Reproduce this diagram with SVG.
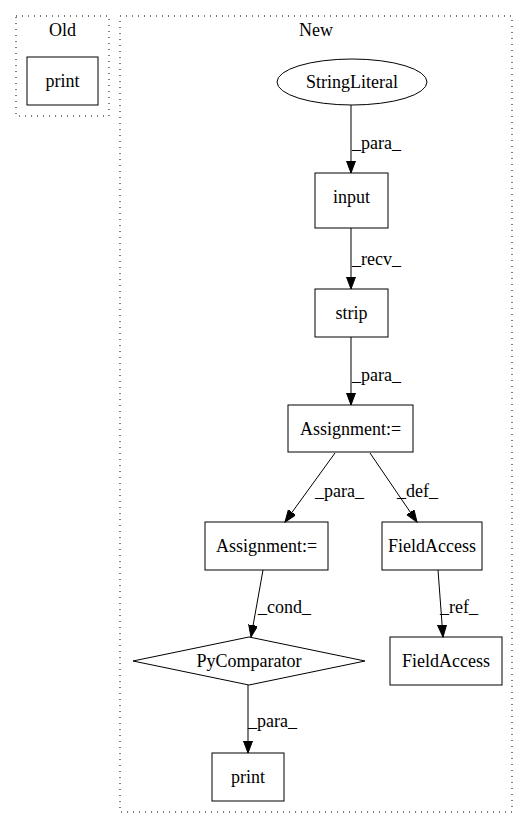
<svg xmlns="http://www.w3.org/2000/svg" width="528" height="828" viewBox="0 0 528 828">
<style>
text{font-family:"Liberation Serif","Times New Roman",serif;font-size:18px;fill:#000}
.n{fill:#fff;stroke:#000;stroke-width:1}
.c{fill:none;stroke:#000;stroke-width:1;stroke-dasharray:1,5}
.e{fill:none;stroke:#000;stroke-width:1;marker-end:url(#ah)}
.m{text-anchor:middle}
</style>
<defs>
<marker id="ah" markerUnits="userSpaceOnUse" markerWidth="13" markerHeight="10" refX="12" refY="4.5" orient="auto">
<polygon points="0,0 12,4.5 0,9" fill="#000" stroke="#000"/>
</marker>
</defs>
<rect width="528" height="828" fill="#fff"/>
<g id="cluster_old">
<rect class="c" x="16" y="16" width="93" height="100"/>
<text class="m" x="62.5" y="36">Old</text>
</g>
<g id="cluster_new">
<rect class="c" x="120" y="16" width="392" height="796"/>
<text class="m" x="316" y="36">New</text>
</g>
<g id="old_print">
<rect class="n" x="27" y="57" width="71" height="48"/>
<text class="m" x="62.5" y="87">print</text>
</g>
<g id="stringliteral">
<ellipse class="n" cx="352" cy="82" rx="75" ry="23"/>
<text class="m" x="352" y="88">StringLiteral</text>
</g>
<g id="input">
<rect class="n" x="315" y="173" width="73" height="55"/>
<text class="m" x="351.5" y="203">input</text>
</g>
<g id="strip">
<rect class="n" x="315" y="289" width="73" height="48"/>
<text class="m" x="351.5" y="319">strip</text>
</g>
<g id="assign1">
<rect class="n" x="288" y="405" width="125" height="47"/>
<text class="m" x="350.5" y="435">Assignment:=</text>
</g>
<g id="assign2">
<rect class="n" x="205" y="522" width="123" height="48"/>
<text class="m" x="266.5" y="552">Assignment:=</text>
</g>
<g id="fieldaccess1">
<rect class="n" x="382" y="522" width="100" height="48"/>
<text class="m" x="432" y="552">FieldAccess</text>
</g>
<g id="pycomparator">
<polygon class="n" points="133,661 249,637 365,661 249,685"/>
<text class="m" x="249" y="667">PyComparator</text>
</g>
<g id="fieldaccess2">
<rect class="n" x="390" y="637" width="112" height="48"/>
<text class="m" x="446" y="667">FieldAccess</text>
</g>
<g id="new_print">
<rect class="n" x="212" y="753" width="72" height="48"/>
<text class="m" x="248" y="783">print</text>
</g>
<g id="edges">
<path class="e" d="M351,105 L351,173"/>
<text x="352" y="149">_para_</text>
<path class="e" d="M351,228 L351,289"/>
<text x="352" y="265">_recv_</text>
<path class="e" d="M351,337 L351,405"/>
<text x="352" y="381">_para_</text>
<path class="e" d="M335,453 L285,522"/>
<text x="315" y="497">_para_</text>
<path class="e" d="M370,453 L417,522"/>
<text x="397" y="497">_def_</text>
<path class="e" d="M263,570 L251,637"/>
<text x="258" y="613">_cond_</text>
<path class="e" d="M438,570 L443,637"/>
<text x="440" y="613">_ref_</text>
<path class="e" d="M248,685 L248,753"/>
<text x="248" y="727">_para_</text>
</g>
</svg>
